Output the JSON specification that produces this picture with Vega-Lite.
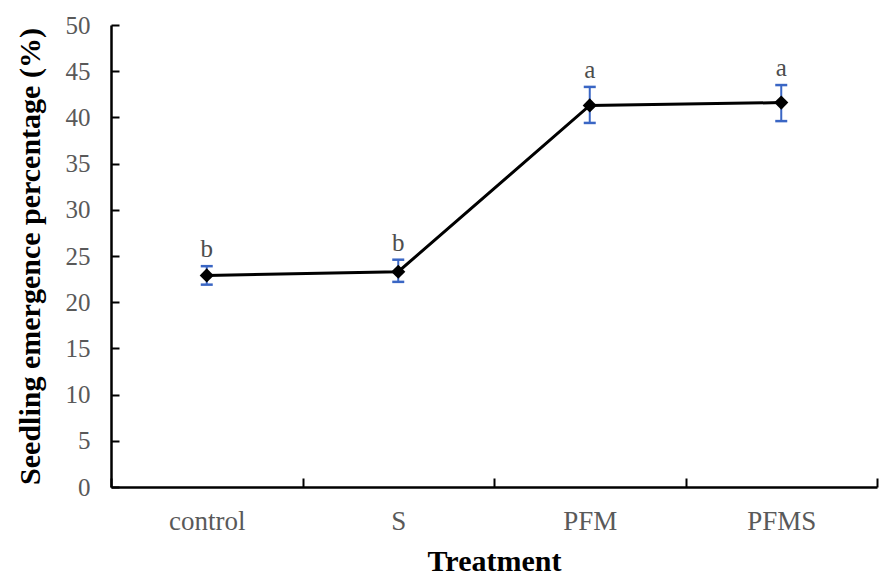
{
  "$schema": "https://vega.github.io/schema/vega-lite/v6.json",
  "width": 766,
  "height": 462,
  "autosize": {"type": "none"},
  "padding": {"left": 111, "top": 25, "right": 9, "bottom": 94},
  "background": "white",
  "config": {
    "view": {"stroke": null},
    "font": "Liberation Serif"
  },
  "data": {
    "values": [
      {"treatment": "control", "mean": 22.9, "lo": 21.9, "hi": 23.9, "letter": "b"},
      {"treatment": "S", "mean": 23.3, "lo": 22.2, "hi": 24.6, "letter": "b"},
      {"treatment": "PFM", "mean": 41.3, "lo": 39.4, "hi": 43.3, "letter": "a"},
      {"treatment": "PFMS", "mean": 41.6, "lo": 39.6, "hi": 43.5, "letter": "a"}
    ]
  },
  "encoding": {
    "x": {
      "field": "treatment",
      "type": "nominal",
      "sort": null,
      "scale": {"paddingInner": 0, "paddingOuter": 0},
      "axis": {
        "title": "Treatment",
        "titleFont": "Liberation Serif",
        "titleFontSize": 30,
        "titleFontWeight": "bold",
        "titleColor": "black",
        "titlePadding": 12,
        "labelAngle": 0,
        "labelFont": "Liberation Serif",
        "labelFontSize": 27,
        "labelColor": "#595959",
        "labelPadding": 30,
        "tickBand": "extent",
        "tickSize": -9,
        "tickWidth": 2,
        "tickColor": "black",
        "domainColor": "black",
        "domainWidth": 2.5,
        "grid": false
      }
    }
  },
  "layer": [
    {
      "mark": {"type": "errorbar", "opacity": 1, "ticks": {"size": 12, "thickness": 2.5, "color": "#3a66c4", "opacity": 1}, "rule": {"strokeWidth": 2, "color": "#3a66c4", "opacity": 1}},
      "encoding": {
        "y": {
          "field": "lo",
          "type": "quantitative",
          "scale": {"domain": [0, 50]},
          "axis": {
            "title": "Seedling emergence percentage (%)",
            "titleFont": "Liberation Serif",
            "titleFontSize": 30,
            "titleFontWeight": "bold",
            "titleColor": "black",
            "titlePadding": 20,
            "values": [0, 5, 10, 15, 20, 25, 30, 35, 40, 45, 50],
            "labelFont": "Liberation Serif",
            "labelFontSize": 25,
            "labelColor": "#595959",
            "labelPadding": 29,
            "tickSize": -8,
            "tickWidth": 2,
            "tickColor": "black",
            "domainColor": "black",
            "domainWidth": 2.5,
            "grid": false
          }
        },
        "y2": {"field": "hi"}
      }
    },
    {
      "mark": {"type": "line", "color": "black", "strokeWidth": 3},
      "encoding": {"y": {"field": "mean", "type": "quantitative"}}
    },
    {
      "mark": {"type": "point", "shape": "diamond", "filled": true, "color": "black", "opacity": 1, "size": 200},
      "encoding": {"y": {"field": "mean", "type": "quantitative"}}
    },
    {
      "mark": {"type": "text", "font": "Liberation Serif", "fontSize": 25, "color": "#4d4d4d", "baseline": "alphabetic", "dy": -9},
      "encoding": {
        "y": {"field": "hi", "type": "quantitative"},
        "text": {"field": "letter"}
      }
    }
  ]
}
